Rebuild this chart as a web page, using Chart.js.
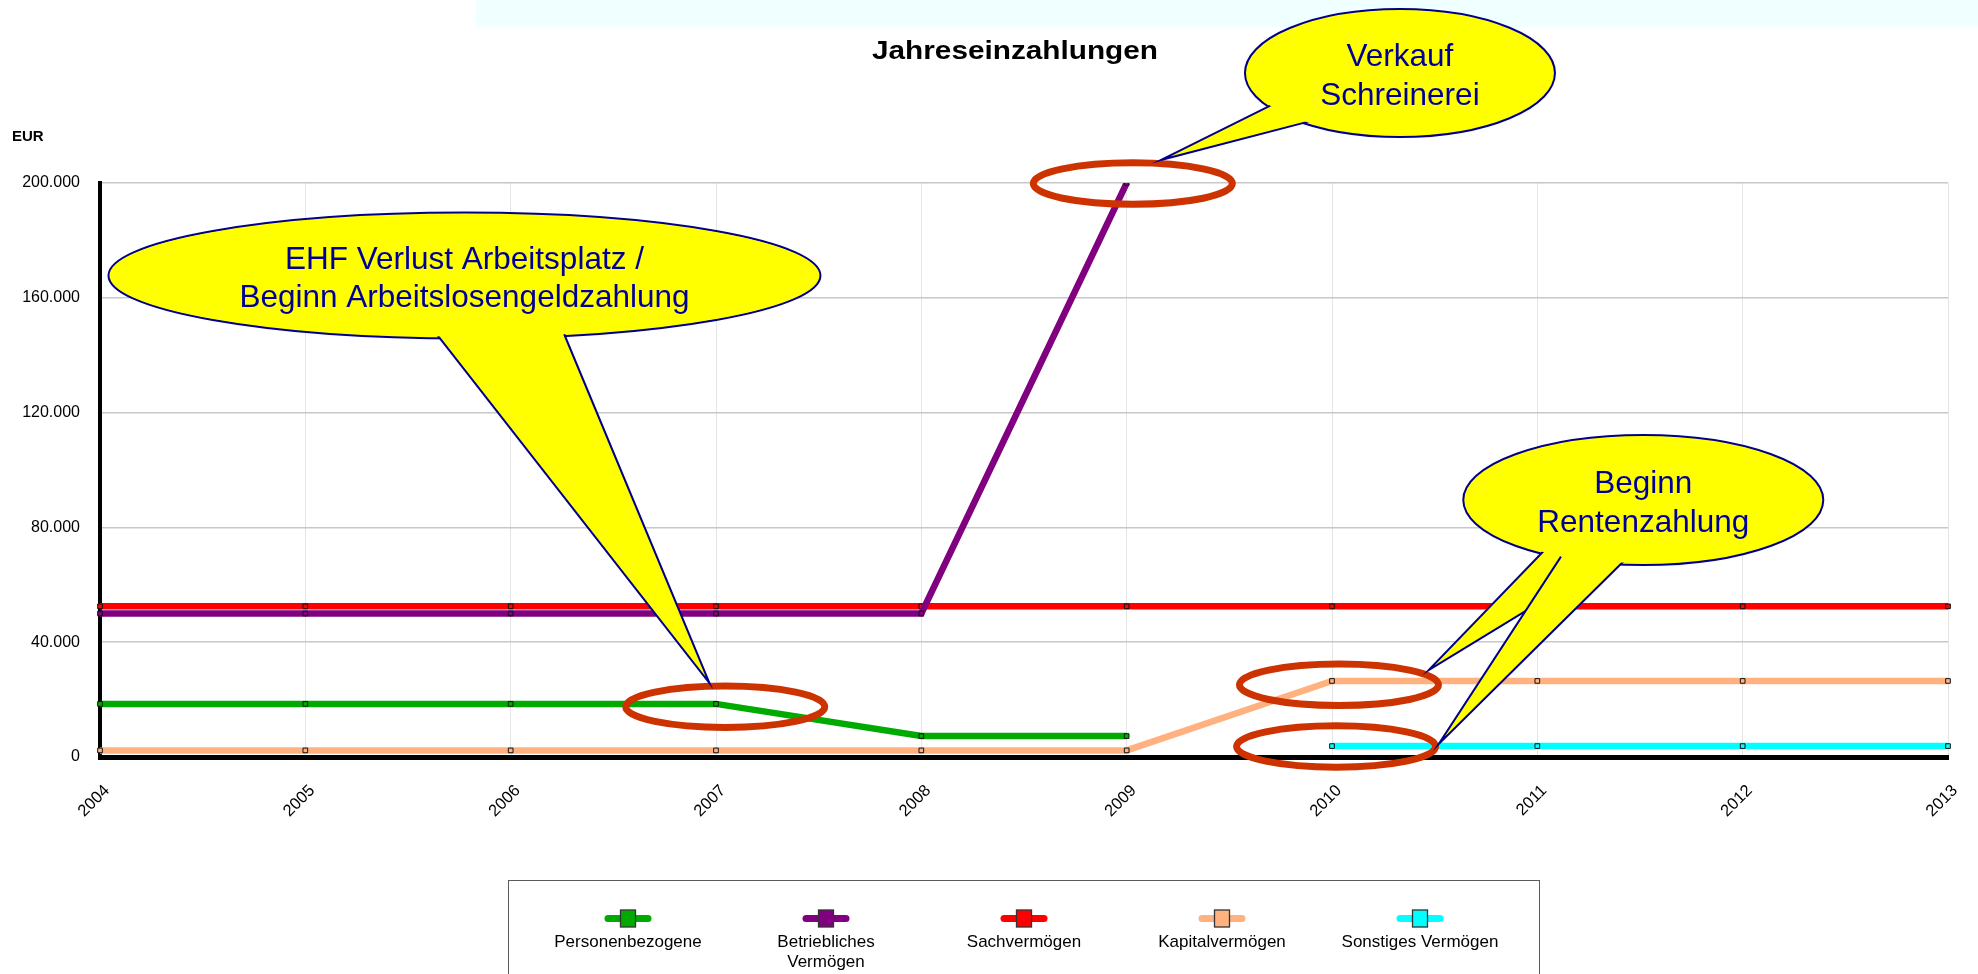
<!DOCTYPE html>
<html><head><meta charset="utf-8">
<script src="https://cdn.jsdelivr.net/npm/chart.js@4.4.1/dist/chart.umd.min.js"></script>
<style>html,body{margin:0;padding:0;background:#fff;}canvas{display:block;}</style>
</head><body>
<canvas id="c" width="1978" height="974"></canvas>
<script>
// ---- data ----
const years = ['2004','2005','2006','2007','2008','2009','2010','2011','2012','2013'];
const personenbezogene = [18500,18500,18500,18500,7300,7300,null,null,null,null];
const betrieblichesVermoegen = [50000,50000,50000,50000,50000,200000,null,null,null,null];
const sachvermoegen = [52500,52500,52500,52500,52500,52500,52500,52500,52500,52500];
const kapitalvermoegen = [2300,2300,2300,2300,2300,2300,26500,26500,26500,26500];
const sonstigesVermoegen = [null,null,null,null,null,null,3800,3800,3800,3800];
const seriesNames = ['Personenbezogene','Betriebliches Vermögen','Sachvermögen','Kapitalvermögen','Sonstiges Vermögen'];
const legendLines = [['Personenbezogene'],['Betriebliches','Vermögen'],['Sachvermögen'],['Kapitalvermögen'],['Sonstiges Vermögen']];
const yTickValues = [0,40000,80000,120000,160000,200000];
const titleText = 'Jahreseinzahlungen';
const unitText = 'EUR';

// ---- annotations (positions in data space: x = year index, y = EUR) ----
const rings = [ {x:3.045, y:17500}, {x:5.03, y:199800}, {x:6.034, y:25150}, {x:6.02, y:3650} ];
const callouts = [
  { lines:['EHF Verlust Arbeitsplatz /','Beginn Arbeitslosengeldzahlung'], x:1.775, y:167770, rx:356, ry:63,
    tails:[ {a:[1.627,145470], b:[2.286,146240], tip:[2.968,25780]} ] },
  { lines:['Verkauf','Schreinerei'], x:6.331, y:238330, rx:155, ry:64,
    tails:[ {a:[5.681,226830], b:[5.869,220560], tip:[5.166,208010]} ] },
  { lines:['Beginn','Rentenzahlung'], x:7.516, y:89550, rx:180, ry:65,
    tails:[ {a:[7.013,71430], b:[7.364,67940], tip:[6.471,30310]},
            {a:[7.091,68640], b:[7.427,67250], tip:[6.520,4530]} ] }
];

// ---- styles ----
const FONT = '"Liberation Sans", Arial, Helvetica, sans-serif';
const seriesColors = ['#00aa00','#800080','#ff0000','#ffb27f','#00ffff'];
const seriesValues = [personenbezogene, betrieblichesVermoegen, sachvermoegen, kapitalvermoegen, sonstigesVermoegen];

function fmt(v){ return String(v).replace(/\B(?=(\d{3})+(?!\d))/g,'.'); }

const decor = {
  id:'decor',
  beforeDraw(chart){
    const ctx = chart.ctx;
    ctx.save();
    ctx.fillStyle = '#ffffff'; ctx.fillRect(0,0,chart.width,chart.height);
    ctx.fillStyle = '#f0ffff'; ctx.fillRect(476,0,chart.width-476,27);
    ctx.fillStyle = '#000';
    ctx.font = 'bold 25px ' + FONT; ctx.textAlign = 'center'; ctx.textBaseline = 'alphabetic';
    ctx.translate(1015,59.3); ctx.scale(1.19,1); ctx.fillText(titleText,0,0);
    ctx.restore();
    ctx.save();
    ctx.fillStyle = '#000'; ctx.font = 'bold 15px ' + FONT; ctx.textAlign = 'left'; ctx.textBaseline = 'alphabetic';
    ctx.fillText(unitText, 12, 141);
    ctx.restore();
  },
  afterDatasetsDraw(chart){
    const ctx = chart.ctx, xs = chart.scales.x, ys = chart.scales.y;
    const P = (a,b) => [xs.getPixelForValue(a), ys.getPixelForValue(b)];
    ctx.save();
    // rings
    ctx.strokeStyle = '#cc3300'; ctx.lineWidth = 7;
    rings.forEach(r => { const [cx,cy] = P(r.x,r.y); ctx.beginPath(); ctx.ellipse(cx,cy,99.5,20.7,0,0,Math.PI*2); ctx.stroke(); });
    // callouts
    callouts.forEach(c => {
      const [cx,cy] = P(c.x,c.y);
      ctx.fillStyle = '#ffff00'; ctx.strokeStyle = '#00008b'; ctx.lineWidth = 2;
      ctx.beginPath(); ctx.ellipse(cx,cy,c.rx,c.ry,0,0,Math.PI*2); ctx.fill(); ctx.stroke();
      c.tails.forEach(t => {
        let [ax,ay] = P(t.a[0],t.a[1]); let [bx,by] = P(t.b[0],t.b[1]); const [tx,ty] = P(t.tip[0],t.tip[1]);
        const push = (x,y) => { const dx=cx-x, dy=cy-y, d=Math.hypot(dx,dy)||1; return [x+dx/d*6, y+dy/d*6]; };
        [ax,ay] = push(ax,ay); [bx,by] = push(bx,by);
        ctx.beginPath(); ctx.moveTo(ax,ay); ctx.lineTo(tx,ty); ctx.lineTo(bx,by); ctx.closePath();
        ctx.fillStyle = '#ffff00'; ctx.fill();
        ctx.beginPath(); ctx.moveTo(ax,ay); ctx.lineTo(tx,ty); ctx.lineTo(bx,by);
        ctx.lineJoin = 'miter'; ctx.stroke();
      });
      ctx.fillStyle = '#ffff00';
      ctx.beginPath(); ctx.ellipse(cx,cy,c.rx-2,c.ry-2,0,0,Math.PI*2); ctx.fill();
      ctx.fillStyle = '#000099'; ctx.font = '31.5px ' + FONT; ctx.textAlign = 'center'; ctx.textBaseline = 'alphabetic';
      c.lines.forEach((ln,i) => ctx.fillText(ln, cx, cy - 6.7 + i*38.5));
    });
    ctx.restore();
  },
  afterDraw(chart){
    const ctx = chart.ctx;
    ctx.save();
    ctx.strokeStyle = '#5a5a5a'; ctx.lineWidth = 1;
    ctx.strokeRect(508.5, 880.5, 1031, 200);
    const ly = 918.5;
    chart.data.datasets.forEach((ds,i) => {
      const cx = 628 + i*198;
      ctx.strokeStyle = ds.borderColor; ctx.lineWidth = 7; ctx.lineCap = 'round';
      ctx.beginPath(); ctx.moveTo(cx-20,ly); ctx.lineTo(cx+20,ly); ctx.stroke();
      ctx.fillStyle = ds.borderColor; ctx.fillRect(cx-7.5, ly-8.5, 15, 17);
      ctx.strokeStyle = '#333'; ctx.lineWidth = 1.3; ctx.lineCap = 'butt'; ctx.strokeRect(cx-7.5, ly-8.5, 15, 17);
      ctx.fillStyle = '#000'; ctx.font = '17px ' + FONT; ctx.textAlign = 'center'; ctx.textBaseline = 'alphabetic';
      legendLines[i].forEach((ln,k) => ctx.fillText(ln, cx, 947.3 + k*19.5));
    });
    ctx.restore();
  }
};

new Chart(document.getElementById('c').getContext('2d'), {
  type:'line',
  data:{
    labels: years,
    datasets: seriesNames.map((n,i) => ({
      label:n, data:seriesValues[i], borderColor:seriesColors[i], backgroundColor:seriesColors[i],
      borderWidth:6.5, tension:0, fill:false, spanGaps:false,
      pointStyle:'rect', pointRadius:3.3, pointBorderWidth:1, pointBorderColor:'#111', pointBackgroundColor:seriesColors[i]
    }))
  },
  options:{
    responsive:false, animation:false, events:[], devicePixelRatio:1,
    layout:{ padding:{ top:183, right:30, left:0, bottom:0 } },
    plugins:{ legend:{display:false}, title:{display:false}, tooltip:{enabled:false} },
    scales:{
      x:{ type:'category', offset:false,
          grid:{ color:'#e4e4e4', lineWidth:1, drawTicks:false, offset:false },
          border:{ display:true, color:'#000', width:5 },
          ticks:{ autoSkip:false, minRotation:45, maxRotation:45, padding:24, labelOffset:7, color:'#000', font:{ family:FONT, size:16.5 } },
          afterFit(s){ s.height = 217; s.paddingLeft = 0; s.paddingRight = 0; } },
      y:{ min:0, max:200000,
          grid:{ color:'#c8c8c8', lineWidth:1.5, drawTicks:false },
          border:{ display:true, color:'#000', width:4 },
          afterBuildTicks(s){ s.ticks = yTickValues.map(v => ({value:v})); },
          ticks:{ padding:20, color:'#000', font:{ family:FONT, size:16 }, callback:(v) => fmt(v) },
          afterFit(s){ s.width = 100; s.paddingTop = 0; s.paddingBottom = 0; } }
    }
  },
  plugins:[decor]
});
</script>
</body></html>
